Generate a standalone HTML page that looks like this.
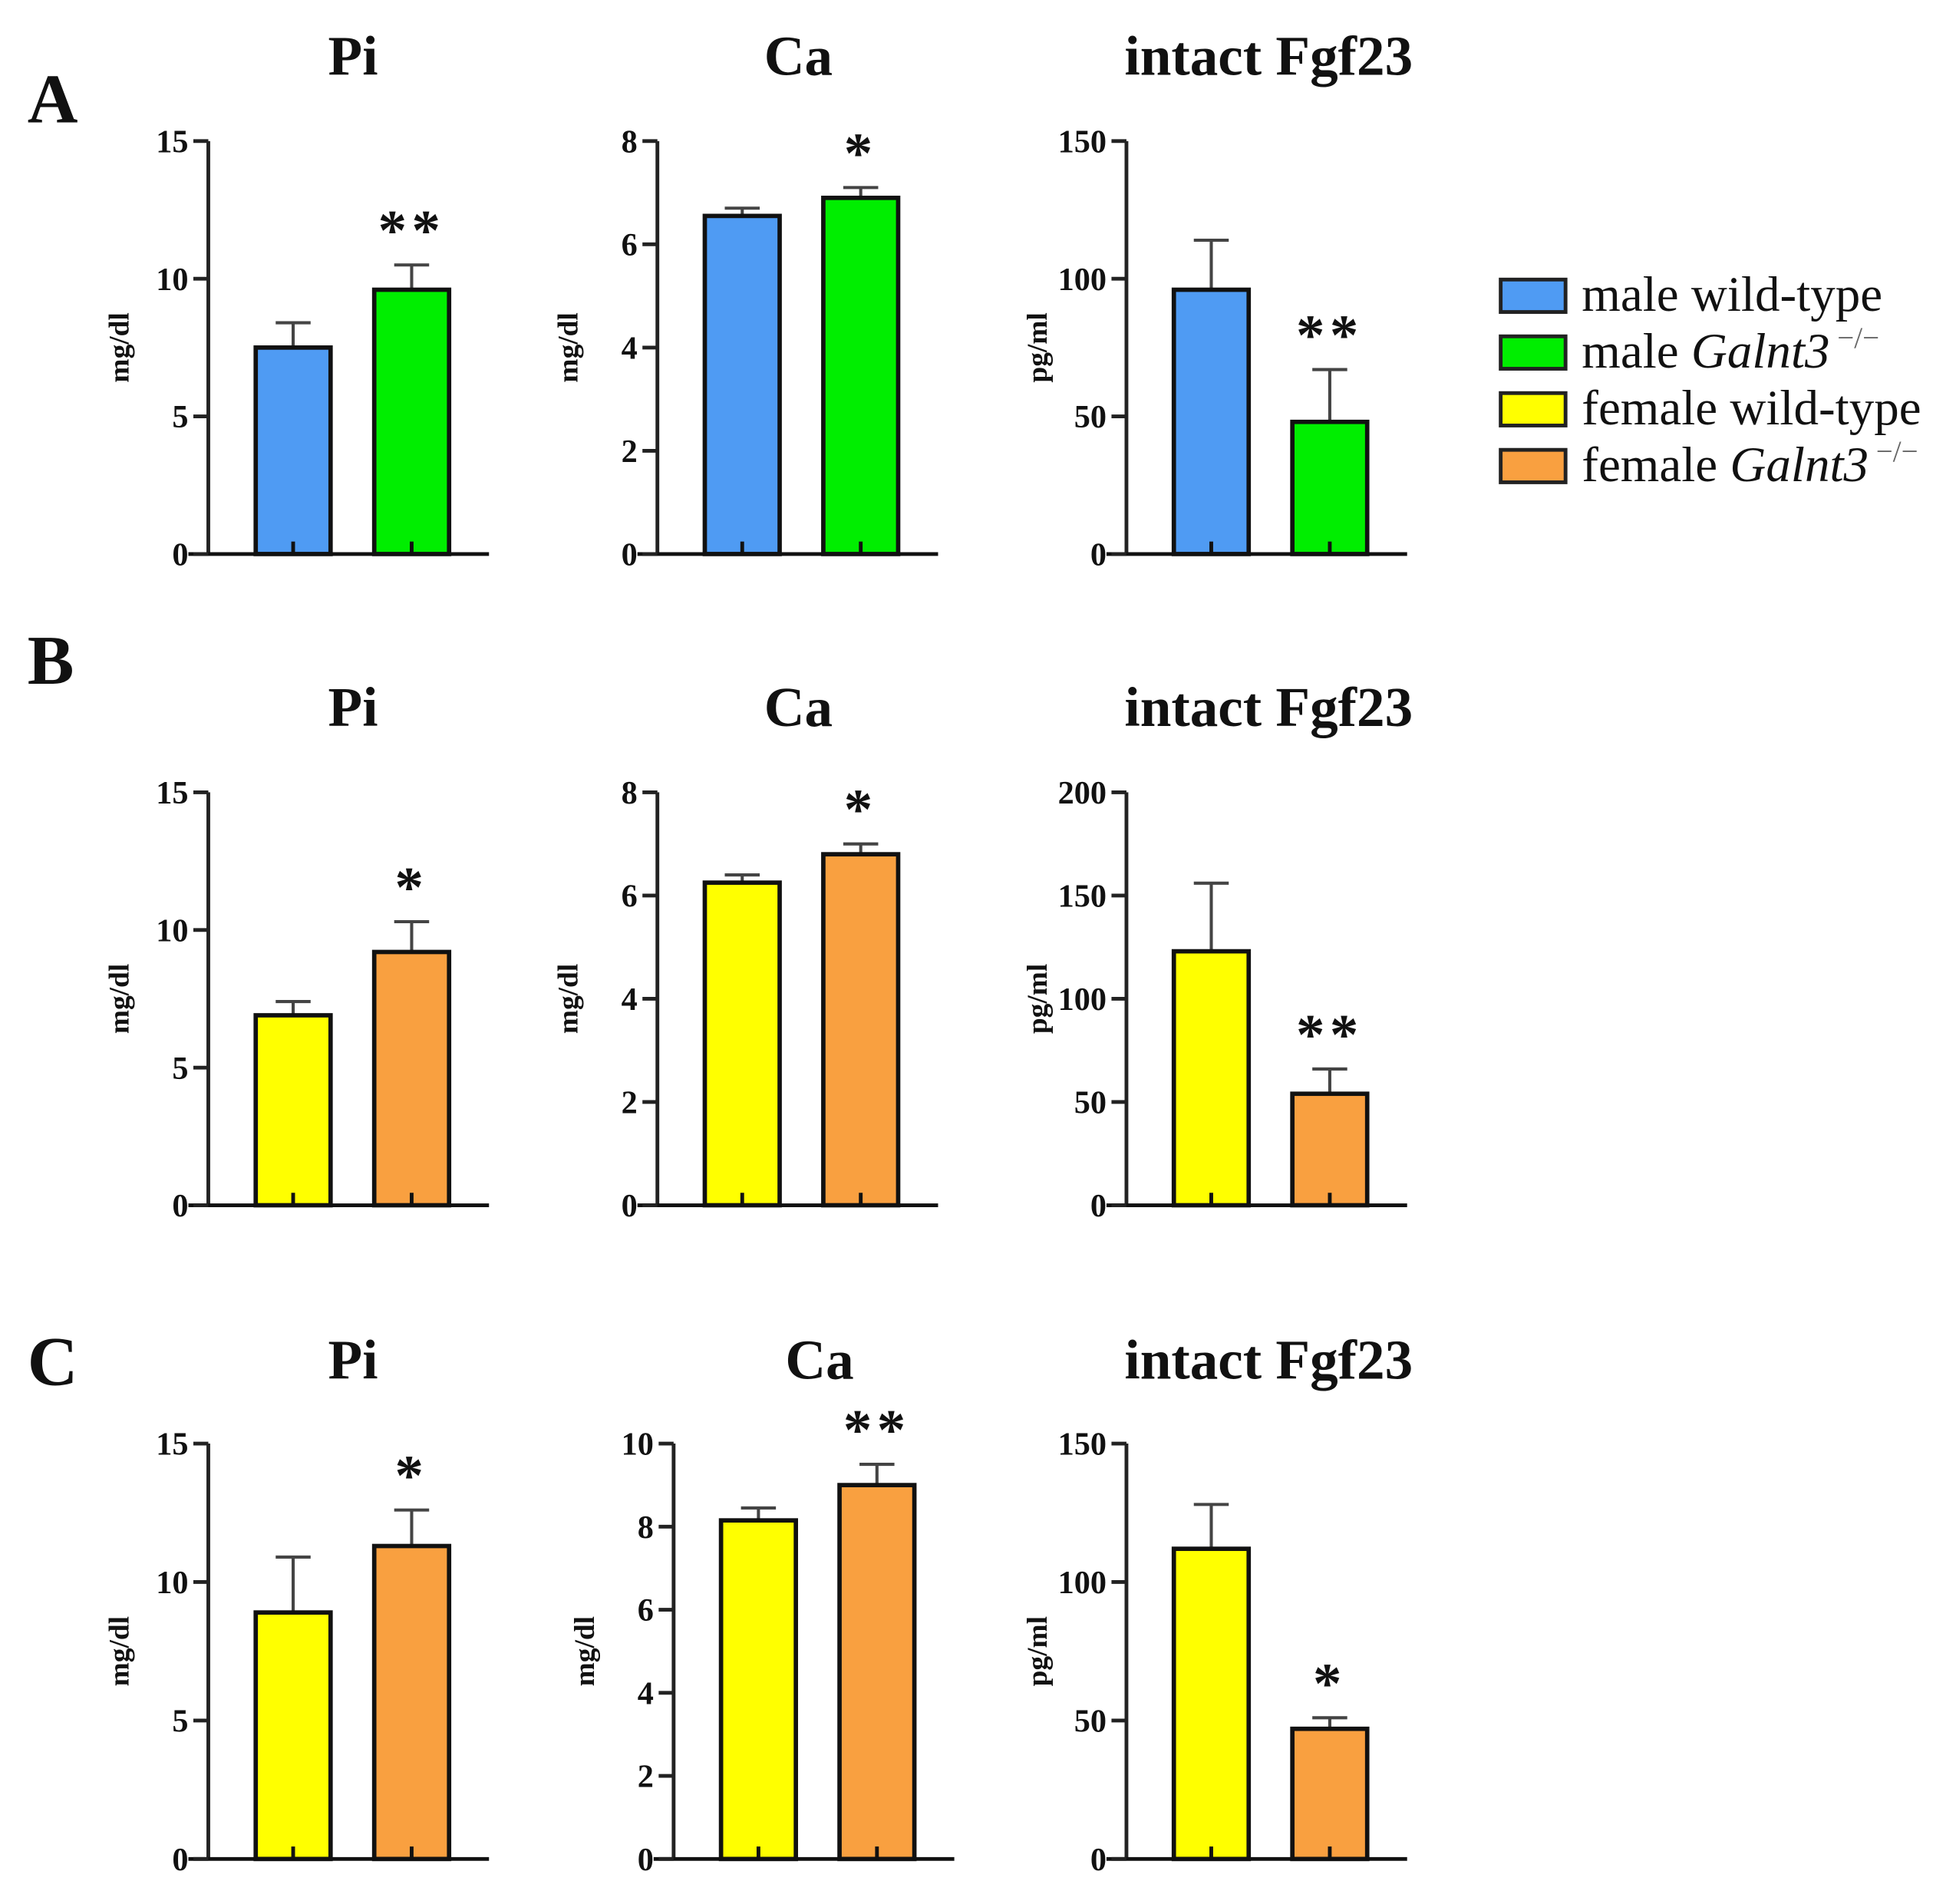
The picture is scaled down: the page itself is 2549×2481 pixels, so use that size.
<!DOCTYPE html>
<html><head><meta charset="utf-8"><style>
html,body{margin:0;padding:0;background:#fff}
svg{display:block}
text{font-family:"Liberation Serif",serif;fill:#111}
</style></head><body>
<svg id="fig" width="2549" height="2481" viewBox="0 0 1568 1526" xmlns="http://www.w3.org/2000/svg">
<g id="legend"></g>
</svg>
<script>
// ---- data ----
const rowLetters = ["A","B","C"];
const chartTitles = ["Pi","Ca","intact Fgf23"];
const yTitles = ["mg/dl","mg/dl","pg/ml"];
const yMaxes = [[15,8,150],[15,8,200],[15,10,150]];
const yTickStep = [[5,2,50],[5,2,50],[5,2,50]];
const wtValues = [[7.5,6.55,96],[6.9,6.25,123],[8.9,8.15,112]];
const wtErrors = [[0.9,0.15,18],[0.5,0.15,33],[2.0,0.3,16]];
const koValues = [[9.6,6.9,48],[9.2,6.8,54],[11.3,9.0,47]];
const koErrors = [[0.9,0.2,19],[1.1,0.2,12],[1.3,0.5,4]];
const signif = [["**","*","**"],["*","*","**"],["*","**","*"]];
const legendLabels = [["male wild-type",""],["male ","Galnt3"],["female wild-type",""],["female ","Galnt3"]];
const legendColors = ["#4f9bf3","#00ee00","#ffff00","#f9a040"];
const rowColors = [["#4f9bf3","#00ee00"],["#ffff00","#f9a040"],["#ffff00","#f9a040"]];

// ---- layout ----
const NS="http://www.w3.org/2000/svg";
const svg=document.getElementById('fig');
function el(tag,attrs,parent,txt){const e=document.createElementNS(NS,tag);for(const k in attrs)e.setAttribute(k,attrs[k]);if(txt!==undefined)e.textContent=txt;(parent||svg).appendChild(e);return e;}
const rowTop=[113,635,1157], rowBase=[444,966,1490], titleY=[60,582,1105], letterY=[98,548,1110];
const axisX=[[167,527,903],[167,527,903],[167,540,903]];
const titleX=[283,640,1017];
for(let r=0;r<3;r++){
  const lt=el('text',{x:22,y:letterY[r],'font-size':56,'font-weight':'bold'},svg,rowLetters[r]);
  
  
  for(let c=0;c<3;c++){
    const g=el('g',{});
    
    
    const ax=axisX[r][c], top=rowTop[r], base=rowBase[r], ymax=yMaxes[r][c];
    const y=v=>base-(v/ymax)*(base-top);
    const tx=(r==2&&c==1)?657:titleX[c];
    const t=el('text',{x:tx,y:titleY[r],'font-size':45,'font-weight':'bold','text-anchor':'middle'},g,chartTitles[c]);
    
    
    const yt=el('text',{x:0,y:0,'font-size':23,'font-weight':'bold','text-anchor':'middle',transform:`translate(${ax-64},${(top+base)/2}) rotate(-90)`},g,yTitles[c]);
    
    
    el('line',{x1:ax,y1:top,x2:ax,y2:base,stroke:'#222','stroke-width':3},g);
    const xEnd=ax+225;
    el('line',{x1:ax-16,y1:base,x2:xEnd,y2:base,stroke:'#111','stroke-width':3},g);
    for(let v=0;v<=ymax;v+=yTickStep[r][c]){
      el('line',{x1:ax-12,y1:y(v),x2:ax,y2:y(v),stroke:'#222','stroke-width':3},g);
      const tl=el('text',{x:ax-16,y:y(v)+9,'font-size':26,'font-weight':'bold','text-anchor':'end'},g,String(v));
      
      
    }
    const vals=[wtValues[r][c],koValues[r][c]], errs=[wtErrors[r][c],koErrors[r][c]];
    for(let b=0;b<2;b++){
      const bx=ax+38+b*95, bw=60, cx=bx+bw/2;
      el('line',{x1:cx,y1:y(vals[b]),x2:cx,y2:y(vals[b]+errs[b]),stroke:'#444','stroke-width':2.5},g);
      el('line',{x1:cx-14,y1:y(vals[b]+errs[b]),x2:cx+14,y2:y(vals[b]+errs[b]),stroke:'#444','stroke-width':2.5},g);
      const rect=el('rect',{x:bx,y:y(vals[b]),width:bw,height:base-y(vals[b]),fill:rowColors[r][b],stroke:'#111','stroke-width':3.5},g);
      
      
      el('line',{x1:cx,y1:base-10,x2:cx,y2:base,stroke:'#111','stroke-width':3},g);
    }
    const kc=ax+38+95+30;
    const s=el('text',{x:kc,y:y(koValues[r][c]+koErrors[r][c])-12,'font-size':46,'font-weight':'bold','text-anchor':'middle','letter-spacing':4},g,signif[r][c]);
    
    
  }
}
const lg=document.getElementById('legend');
for(let i=0;i<4;i++){
  const yy=224+i*45.5;
  const e=el('g',{},lg);
  
  
  el('rect',{x:1203,y:yy,width:52,height:26,fill:legendColors[i],stroke:'#222','stroke-width':3},e);
  const t=el('text',{x:1268,y:yy+25,'font-size':40},e);
  el('tspan',{},t,legendLabels[i][0]);
  if(legendLabels[i][1]){
    el('tspan',{'font-style':'italic'},t,legendLabels[i][1]);
    el('tspan',{'font-size':24,dy:-16,dx:6,fill:'#666'},t,'\u2212/\u2212');
  }
}
</script>
</body></html>
